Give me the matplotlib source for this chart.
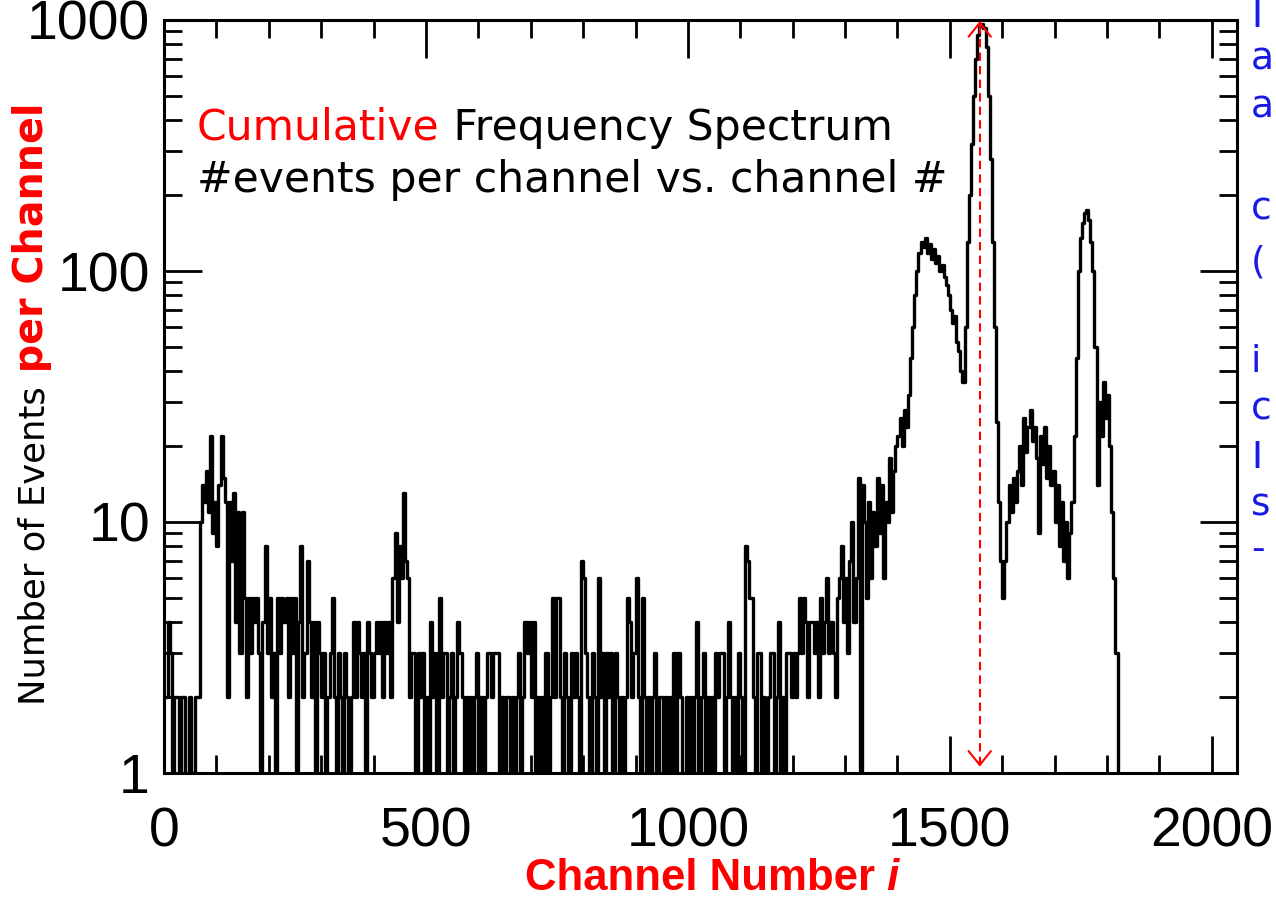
import numpy as np
import matplotlib
matplotlib.use('Agg')
import matplotlib.pyplot as plt
from matplotlib.ticker import FixedLocator, MultipleLocator, LogLocator, NullFormatter

# counts per 4-channel bin, one row = 100 channels
bin_width = 4
counts_0_400 = [2, 2, 4, 3, 1, 2, 2, 1, 2, 2, 1, 1, 2, 1, 1, 2, 2, 10, 14, 12, 16, 11, 22, 9, 12,
                8, 14, 22, 15, 12, 2, 12, 7, 13, 4, 11, 3, 11, 5, 2, 5, 3, 5, 4, 5, 3, 1, 4, 8, 3,
                5, 2, 3, 1, 5, 3, 5, 4, 5, 2, 5, 3, 5, 1, 4, 8, 2, 3, 7, 4, 2, 4, 1, 4, 3,
                2, 3, 1, 2, 3, 5, 2, 1, 3, 2, 1, 3, 2, 1, 2, 4, 2, 4, 3, 2, 3, 1, 4, 3, 2]
counts_400_800 = [3, 4, 3, 4, 2, 4, 3, 4, 2, 6, 9, 4, 8, 6, 13, 7, 6, 2, 3, 3, 1, 3, 2, 3, 1,
                  2, 1, 4, 2, 3, 1, 5, 2, 3, 3, 1, 2, 3, 1, 2, 4, 3, 2, 1, 2, 1, 2, 1, 2, 3,
                  1, 2, 1, 2, 3, 3, 2, 3, 3, 3, 1, 2, 1, 2, 2, 1, 2, 1, 2, 3, 1, 2, 4, 3, 4,
                  2, 4, 1, 2, 1, 2, 1, 3, 1, 2, 5, 2, 5, 5, 2, 1, 3, 2, 1, 3, 2, 3, 2, 1, 7]
counts_800_1200 = [6, 3, 2, 1, 3, 2, 1, 6, 2, 3, 1, 3, 2, 3, 1, 3, 2, 1, 2, 1, 2, 5, 4, 2, 3,
                   6, 2, 1, 5, 2, 1, 2, 1, 2, 3, 1, 2, 2, 1, 2, 1, 2, 1, 3, 1, 3, 2, 1, 1, 2,
                   1, 2, 1, 2, 4, 1, 2, 3, 1, 2, 1, 2, 1, 3, 2, 3, 3, 1, 2, 4, 2, 1, 2, 1, 3,
                   2, 1, 8, 7, 5, 5, 2, 1, 3, 3, 1, 2, 1, 2, 3, 3, 1, 2, 4, 1, 2, 1, 3, 3, 2]
counts_1200_1600 = [3, 2, 3, 5, 3, 5, 4, 2, 4, 4, 3, 4, 2, 5, 3, 4, 6, 3, 4, 3, 2, 5, 6, 8, 4,
                    6, 3, 7, 10, 4, 6, 15, 1, 14, 10, 5, 12, 6, 11, 8, 15, 9, 14, 6, 12, 10, 18, 11, 16, 20,
                    22, 26, 20, 28, 24, 32, 45, 60, 80, 100, 118, 130, 125, 135, 118, 128, 112, 122, 108, 115,
                    100, 106, 95, 88, 80,
                    70, 62, 66, 52, 48, 40, 36, 60, 130, 200, 320, 500, 700, 870, 950, 960, 930, 780, 500, 280,
                    130, 60, 25, 12, 7]
counts_1600_end = [5, 7, 10, 14, 11, 15, 12, 16, 20, 14, 26, 19, 24, 28, 21, 24, 18, 9, 22, 17, 24, 15, 20, 14, 16,
                   10, 14, 8, 12, 7, 10, 6, 9, 12, 22, 45, 100, 135, 155, 170, 175, 160, 130, 100, 50,
                   14, 30, 22, 36, 26,
                   32, 20, 11, 6, 3, 1]

peak_channel = 1557
x_ticks = [0, 500, 1000, 1500, 2000]
y_ticks = [1, 10, 100, 1000]
y_tick_labels = ['1', '10', '100', '1000']
side_letters = ['I', 'a', 'a', 'c', '(', 'i', 'c', 'I', 's', '-']

counts = np.array(counts_0_400 + counts_400_800 + counts_800_1200 + counts_1200_1600 + counts_1600_end)
channels = np.arange(len(counts)) * bin_width

W, H = 1276, 900
fig = plt.figure(figsize=(W / 100, H / 100), dpi=100)
ax = fig.add_axes([164 / W, 127 / H, (1237 - 164) / W, (773 - 20) / H])

ax.step(channels, counts, where='post', color='black', lw=2.4)
ax.set_yscale('log')
ax.set_xlim(0, 2048)
ax.set_ylim(1, 1000)

ax.xaxis.set_major_locator(FixedLocator(x_ticks))
ax.xaxis.set_minor_locator(MultipleLocator(100))
ax.set_yticks(y_ticks)
ax.set_yticklabels(y_tick_labels)
ax.yaxis.set_minor_locator(LogLocator(base=10, subs=np.arange(2, 10)))
ax.yaxis.set_minor_formatter(NullFormatter())
ax.tick_params(which='both', direction='in', top=True, right=True, width=2, color='black')
ax.tick_params(which='major', length=27)
ax.tick_params(which='minor', length=13)
ax.tick_params(axis='x', which='major', pad=24, labelsize=40)
ax.tick_params(axis='y', which='major', pad=10, labelsize=40)
for lab in ax.get_xticklabels() + ax.get_yticklabels():
    lab.set_family('Liberation Sans')
for sp in ax.spines.values():
    sp.set_linewidth(2.2)

# red double arrow marking the main peak
ax.vlines(peak_channel, 1.08, 950, colors='red', linestyles=(0, (4, 2.5)), lw=1.5)
head = dict(arrowstyle='->,head_length=0.5,head_width=0.4', color='red', lw=1.5,
            mutation_scale=20, shrinkA=0, shrinkB=0)
ax.annotate('', xy=(peak_channel, 990), xytext=(peak_channel, 940), arrowprops=head)
ax.annotate('', xy=(peak_channel, 1.06), xytext=(peak_channel, 1.12), arrowprops=head)

# inset text
t1 = fig.text(197 / W, 1 - 140 / H, 'Cumulative', color='red', fontsize=30.6,
              family='DejaVu Sans', va='baseline')
ax.annotate(' Frequency Spectrum', xy=(1, 0), xycoords=t1, va='bottom', ha='left',
            fontsize=30.6, family='DejaVu Sans', color='black', annotation_clip=False)
fig.text(197 / W, 1 - 192 / H, '#events per channel vs. channel #', color='black',
         fontsize=30.6, family='DejaVu Sans', va='baseline')

# axis labels
xl = fig.text(525 / W, 10 / H, 'Channel Number', color='red', fontsize=31.5, weight='bold',
              family='Liberation Sans', va='baseline', ha='left')
ax.annotate(' i', xy=(1, 0), xycoords=xl, va='bottom', ha='left', color='red', fontsize=31.5,
            weight='bold', style='italic', family='Liberation Sans', annotation_clip=False)

yl = fig.text(52 / W, 1 - 705 / H, 'Number of Events', rotation=90, ha='right', va='bottom',
              fontsize=25.5, family='DejaVu Sans', color='black')
ax.annotate(' per Channel', xy=(1, 1), xycoords=yl, ha='right', va='bottom', rotation=90,
            fontsize=28.5, weight='bold', family='DejaVu Sans', color='red', annotation_clip=False)

# cropped blue side text
side_y = [17, 60, 107, 210, 262, 362, 410, 458, 506, 550]
for letter, yc in zip(side_letters, side_y):
    fig.text(1251 / W, 1 - yc / H, letter, color='#1a1ae6', fontsize=27,
             family='DejaVu Sans', va='center', ha='left')

fig.savefig('out.png', dpi=100)
